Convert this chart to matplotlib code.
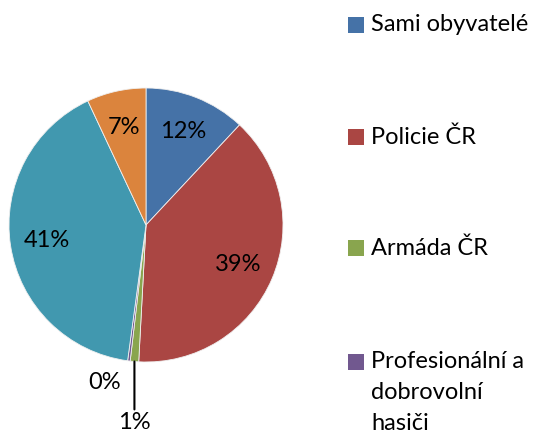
import numpy as np
import matplotlib.pyplot as plt
from matplotlib.patches import Rectangle

plt.rcParams['font.family'] = ['Lato', 'DejaVu Sans']

# podily (v %) ve smeru hodinovych rucicek od 12 hodin
values = [12, 39, 1, 0.3, 41, 7]
colors = ['#4572A7', '#AA4643', '#89A54E', '#71588F', '#4198AF', '#DB843D']
# v legende jsou videt jen prvni ctyri polozky
legend_labels = ['Sami obyvatelé', 'Policie ČR', 'Armáda ČR',
                 'Profesionální a\ndobrovolní\nhasiči']

W, H = 534, 438
fs = 17
fig = plt.figure(figsize=(W / 100, H / 100), dpi=100)

cx, cy, r = 146, 225, 137
ax = fig.add_axes([(cx - r) / W, 1 - (cy + r) / H, 2 * r / W, 2 * r / H])

wedges, texts, autotexts = ax.pie(
    values, colors=colors, startangle=90, counterclock=False,
    autopct='%.0f%%', pctdistance=0.73,
    wedgeprops=dict(edgecolor='#f0f0f0', linewidth=0.6),
    textprops=dict(fontsize=fs, color='black'))
ax.set_xlim(-1, 1)
ax.set_ylim(-1, 1)
ax.set_aspect('equal')
ax.axis('off')

# male vysece: popisky venku
def mid_angle(w):
    return np.deg2rad((w.theta1 + w.theta2) / 2)

# 1% (armada) - vodici cara svisle dolu
a = mid_angle(wedges[2])
x0, y0 = np.cos(a), np.sin(a)
autotexts[2].set_visible(False)
ax.annotate(autotexts[2].get_text(), xy=(x0, y0), xytext=(x0, y0 - 0.37),
            ha='center', va='top', fontsize=fs, annotation_clip=False,
            arrowprops=dict(arrowstyle='-', color='black', lw=1.5,
                            shrinkA=0, shrinkB=0))
# 0% (hasici)
a = mid_angle(wedges[3])
autotexts[3].set_position((1.2 * np.cos(a) - 0.15, 1.2 * np.sin(a) + 0.04))
autotexts[3].set_ha('center')
autotexts[3].set_va('center')

# legenda
ys = [25, 137, 248, 362]
for lab, col, y in zip(legend_labels, colors, ys):
    fig.patches.append(Rectangle((348 / W, 1 - (y + 8) / H), 16 / W, 16 / H,
                                 transform=fig.transFigure, facecolor=col,
                                 edgecolor='none'))
    fig.text(371 / W, 1 - (y - 11) / H, lab, ha='left', va='top',
             fontsize=fs, linespacing=1.6)

fig.savefig('out.png', dpi=100)
